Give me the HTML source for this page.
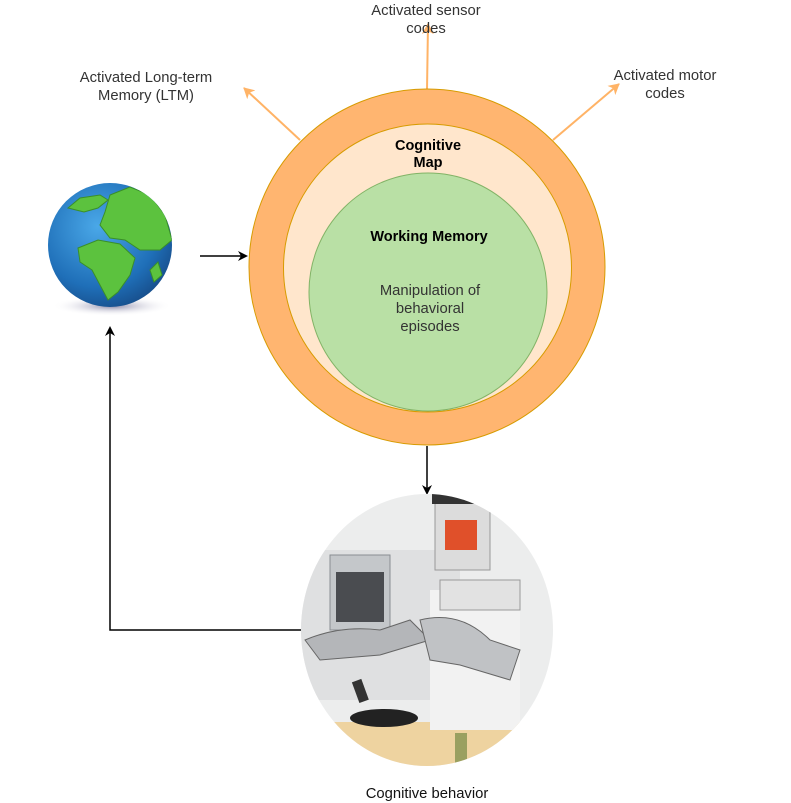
<!DOCTYPE html>
<html><head><meta charset="utf-8"><style>
body{margin:0;background:#fff;}
svg{display:block;font-family:"Liberation Sans",Arial,sans-serif;}
</style></head><body>
<svg width="791" height="803" viewBox="0 0 791 803">
<defs>
<marker id="ob" markerWidth="10" markerHeight="10" refX="8" refY="5" orient="auto" markerUnits="userSpaceOnUse"><path d="M0,0 L10,5 L0,10 L3,5 Z" fill="#000"/></marker>
<marker id="oo" markerWidth="12" markerHeight="12" refX="10" refY="6" orient="auto" markerUnits="userSpaceOnUse"><path d="M0,0 L11,6 L0,12 L3,6 Z" fill="#FFB366"/></marker>
<radialGradient id="sea" cx="0.4" cy="0.35" r="0.7"><stop offset="0" stop-color="#4aa8e8"/><stop offset="0.7" stop-color="#1f6fb8"/><stop offset="1" stop-color="#174d8a"/></radialGradient>
<radialGradient id="shadow" cx="0.5" cy="0.5" r="0.5"><stop offset="0" stop-color="#8a88a8"/><stop offset="1" stop-color="#fff" stop-opacity="0"/></radialGradient>
<clipPath id="robotclip"><ellipse cx="427" cy="630" rx="126" ry="136"/></clipPath>
<clipPath id="globeclip"><circle cx="110" cy="245" r="62"/></clipPath>
</defs>

<line x1="300" y1="140" x2="244" y2="88" stroke="#FFB366" stroke-width="2" marker-end="url(#oo)"/>
<line x1="427" y1="90" x2="428" y2="24" stroke="#FFB366" stroke-width="2" marker-end="url(#oo)"/>
<line x1="553" y1="140" x2="619" y2="84" stroke="#FFB366" stroke-width="2" marker-end="url(#oo)"/>

<circle cx="427" cy="267" r="178" fill="#FFB570" stroke="#D79B00" stroke-width="1"/>
<circle cx="427.5" cy="268" r="144" fill="#FFE6CC" stroke="#D79B00" stroke-width="1"/>
<circle cx="428" cy="292" r="119" fill="#B9E0A5" stroke="#82B366" stroke-width="1"/>

<text x="428" y="150" text-anchor="middle" font-size="14.5" font-weight="bold">Cognitive</text>
<text x="428" y="167" text-anchor="middle" font-size="14.5" font-weight="bold">Map</text>
<text x="429" y="241" text-anchor="middle" font-size="14.5" font-weight="bold">Working Memory</text>
<g font-size="14.8" fill="#333" text-anchor="middle">
<text x="430" y="295">Manipulation of</text><text x="430" y="313">behavioral</text><text x="430" y="331">episodes</text></g>

<g font-size="14.8" fill="#333" text-anchor="middle"><text x="146" y="82">Activated Long-term</text><text x="146" y="100">Memory (LTM)</text></g>
<g font-size="14.8" fill="#333" text-anchor="middle"><text x="426" y="15">Activated sensor</text><text x="426" y="33">codes</text></g>
<g font-size="14.8" fill="#333" text-anchor="middle"><text x="665" y="80">Activated motor</text><text x="665" y="98">codes</text></g>

<g>
<ellipse cx="112" cy="306" rx="60" ry="10" fill="url(#shadow)"/>
<circle cx="110" cy="245" r="62" fill="url(#sea)"/>
<g clip-path="url(#globeclip)" fill="#5cc23e" stroke="#3a8f28" stroke-width="1">
<path d="M68,208 L80,198 L100,195 L108,200 L98,208 L84,212 Z"/>
<path d="M110,195 L130,187 L150,195 L165,215 L172,240 L160,250 L140,250 L125,240 L110,238 L100,225 L105,212 Z"/>
<path d="M78,248 L98,240 L120,244 L135,258 L130,275 L118,292 L108,300 L100,285 L92,270 L80,262 Z"/>
<path d="M150,270 L158,262 L162,275 L154,282 Z"/>
</g>
</g>

<line x1="200" y1="256" x2="246" y2="256" stroke="#000" stroke-width="1.5" marker-end="url(#ob)"/>
<line x1="427" y1="446" x2="427" y2="493" stroke="#000" stroke-width="1.5" marker-end="url(#ob)"/>
<polyline points="301,630 110,630 110,328" fill="none" stroke="#000" stroke-width="1.5" marker-end="url(#ob)"/>

<g clip-path="url(#robotclip)">
<rect x="300" y="494" width="254" height="272" fill="#eceded"/>
<rect x="300" y="550" width="160" height="150" fill="#dfe0e1"/>
<rect x="330" y="555" width="60" height="75" fill="#c4c7ca" stroke="#8a8e92"/>
<rect x="336" y="572" width="48" height="50" fill="#4a4c50"/>
<rect x="300" y="722" width="254" height="50" fill="#eed3a0"/>
<rect x="430" y="590" width="90" height="140" fill="#f2f2f2"/>
<rect x="435" y="500" width="55" height="70" fill="#dcdcdc" stroke="#999"/>
<rect x="445" y="520" width="32" height="30" fill="#e0502a"/>
<rect x="432" y="494" width="48" height="10" fill="#333"/>
<rect x="440" y="580" width="80" height="30" fill="#e2e2e2" stroke="#999"/>
<path d="M305,640 Q340,625 380,630 L410,620 L430,640 L380,655 L320,660 Z" fill="#b4b6b9" stroke="#666"/>
<path d="M420,620 Q460,610 490,640 L520,650 L510,680 L460,665 L430,660 Z" fill="#c0c2c5" stroke="#666"/>
<ellipse cx="384" cy="718" rx="34" ry="9" fill="#222"/>
<rect x="355" y="680" width="10" height="22" fill="#333" transform="rotate(-20 360 690)"/>
<rect x="455" y="733" width="12" height="35" fill="#9aa060"/>
</g>

<text x="427" y="798" text-anchor="middle" font-size="14.8" fill="#111">Cognitive behavior</text>
</svg>
</body></html>
